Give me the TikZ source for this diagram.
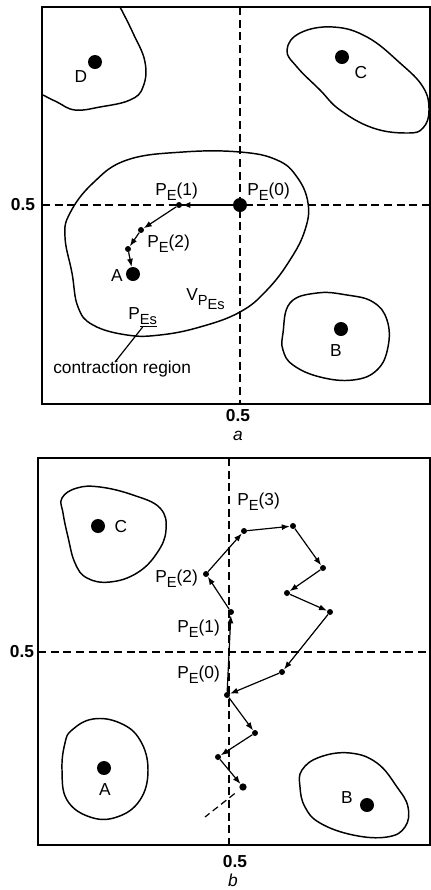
\documentclass[tikz,border=0pt]{standalone}
\usepackage{fontspec}
\setmainfont{Liberation Sans}
\usetikzlibrary{arrows.meta}

\newcommand{\lowsub}[1]{\raisebox{-0.55ex}{\fontsize{11}{12}\selectfont #1}}

\begin{document}
\begin{tikzpicture}[
  x=0.75pt, y=-0.75pt,
  frame/.style={line width=1.8pt},
  axis/.style={dash pattern=on 6pt off 3.5pt, line width=1.2pt},
  region/.style={line width=1.1pt},
  bigdot/.style={circle, fill, inner sep=0pt, minimum size=10.5pt},
  smalldot/.style={circle, fill, inner sep=0pt, minimum size=4.5pt},
  walk/.style={-{Latex[length=6pt, width=4.5pt]}, line width=0.9pt},
  tail/.style={dash pattern=on 5pt off 3pt, line width=0.9pt},
  lab/.style={font=\fontsize{13}{15}\selectfont, inner sep=0pt, anchor=base west},
  let/.style={font=\fontsize{13}{15}\selectfont, inner sep=0pt, anchor=base},
  tick/.style={font=\fontsize{13}{15}\selectfont\bfseries, inner sep=0pt},
  panel/.style={font=\fontsize{13}{15}\selectfont\itshape, inner sep=0pt}
]
\useasboundingbox (0,0) rectangle (431,890);

% panel a
\draw[frame] (42,7) rectangle (430,404);
\draw[axis] (240,7) -- (240,404);
\draw[axis] (42,205) -- (430,205);
\node[tick] (ya) at (23,205) {0.5};
\node[tick] (xa) at (238,416) {0.5};
\node[panel] (pa) at (238,436) {a};

\draw[region] plot[smooth, tension=0.7] coordinates {(120,7) (133,33) (145,62) (143,87) (130,100) (100,107) (75,110) (57,102) (43,95)};
\draw[region] plot[smooth cycle, tension=0.7] coordinates {(287,50) (300,33) (333,27) (367,37) (400,63) (423,87) (429,110) (423,128) (407,133) (373,128) (340,110) (320,90) (297,67)};
\draw[region] plot[smooth cycle, tension=0.7] coordinates {(240,152) (277,160) (297,177) (308,203) (305,230) (290,260) (267,290) (240,312) (200,327) (160,335) (127,335) (93,325) (78,307) (72,273) (65,237) (70,213) (93,183) (127,160) (183,152)};
\draw[region] plot[smooth cycle, tension=0.7] coordinates {(283,333) (290,303) (317,293) (347,295) (373,302) (387,320) (388,347) (377,370) (353,380) (320,377) (293,365) (283,350)};

\node[bigdot] (d) at (95,62) {};
\node[bigdot] (c) at (342,57) {};
\node[bigdot] (b) at (341,329) {};
\node[bigdot] (a) at (133,274) {};
\node[bigdot] (pe0) at (240,205) {};
\node[smalldot] (pe1) at (179,205) {};
\node[smalldot] (pe2) at (141,230) {};
\node[smalldot] (pe3) at (128,249) {};

\draw[walk] (pe0) -- (pe1);
\draw[walk] (pe1) -- (pe2);
\draw[walk] (pe2) -- (pe3);
\draw[walk] (pe3) -- (a);

\node[let] (labd) at (81,82) {D};
\node[let] (labc) at (361,78) {C};
\node[let] (labb) at (336,356) {B};
\node[let] (laba) at (117,281) {A};
\node[lab] (labpe0) at (247,195) {P\lowsub{E}(0)};
\node[lab] (labpe1) at (155,195) {P\lowsub{E}(1)};
\node[lab] (labpe2) at (147,247) {P\lowsub{E}(2)};
\node[lab] (vpes) at (186,300) {V\lowsub{P\lowsub{Es}}};
\node[lab] (pes) at (128,319) {P\lowsub{\underline{Es}}};
\node[lab] (cr) at (53,373) {contraction region};
\coordinate (lead) at (115,362);
\draw[line width=0.9pt] (lead) -- (pes.south);

% panel b
\draw[frame] (38,458) rectangle (430,845);
\draw[axis] (229,458) -- (229,845);
\draw[axis] (38,652) -- (430,652);
\node[tick] (yb) at (22,652) {0.5};
\node[tick] (xb) at (235,862) {0.5};
\node[panel] (pb) at (233,880) {b};

\draw[region] plot[smooth cycle, tension=0.7] coordinates {(62,498) (77,488) (100,487) (133,495) (160,508) (166,530) (157,553) (137,573) (110,582) (87,578) (75,563) (68,537) (63,513)};
\draw[region] plot[smooth cycle, tension=0.7] coordinates {(72,730) (93,719) (120,723) (140,740) (148,770) (140,800) (117,817) (90,817) (67,800) (62,770) (65,743)};
\draw[region] plot[smooth cycle, tension=0.7] coordinates {(302,770) (320,757) (350,753) (377,763) (397,787) (408,807) (405,827) (387,837) (353,835) (320,823) (305,807) (300,787)};

\node[bigdot] (bc) at (98,526) {};
\node[bigdot] (ba) at (104,768) {};
\node[bigdot] (bb) at (367,805) {};

\node[smalldot] (w0) at (227,695) {};
\node[smalldot] (w1) at (231,612) {};
\node[smalldot] (w2) at (206,574) {};
\node[smalldot] (w3) at (244,531) {};
\node[smalldot] (w4) at (293,526) {};
\node[smalldot] (w5) at (323,568) {};
\node[smalldot] (w6) at (287,593) {};
\node[smalldot] (w7) at (330,612) {};
\node[smalldot] (w8) at (282,672) {};
\node[smalldot] (w9) at (255,733) {};
\node[smalldot] (w10) at (218,757) {};
\node[smalldot, minimum size=5.5pt] (w11) at (243,787) {};
\coordinate (wend) at (205,817);

\draw[walk] (w0) -- (w1);
\draw[walk] (w1) -- (w2);
\draw[walk] (w2) -- (w3);
\draw[walk] (w3) -- (w4);
\draw[walk] (w4) -- (w5);
\draw[walk] (w5) -- (w6);
\draw[walk] (w6) -- (w7);
\draw[walk] (w7) -- (w8);
\draw[walk] (w8) -- (w0);
\draw[walk] (w0) -- (w9);
\draw[walk] (w9) -- (w10);
\draw[walk] (w10) -- (w11);
\draw[tail, shorten <=5pt] (w11) -- (wend);

\node[let] (labbc) at (121,532) {C};
\node[let] (labba) at (105,795) {A};
\node[let] (labbb) at (347,803) {B};
\node[lab] (labw3) at (237,505) {P\lowsub{E}(3)};
\node[lab] (labw2) at (155,582) {P\lowsub{E}(2)};
\node[lab] (labw1) at (177,632) {P\lowsub{E}(1)};
\node[lab] (labw0) at (177,678) {P\lowsub{E}(0)};
\end{tikzpicture}
\end{document}
